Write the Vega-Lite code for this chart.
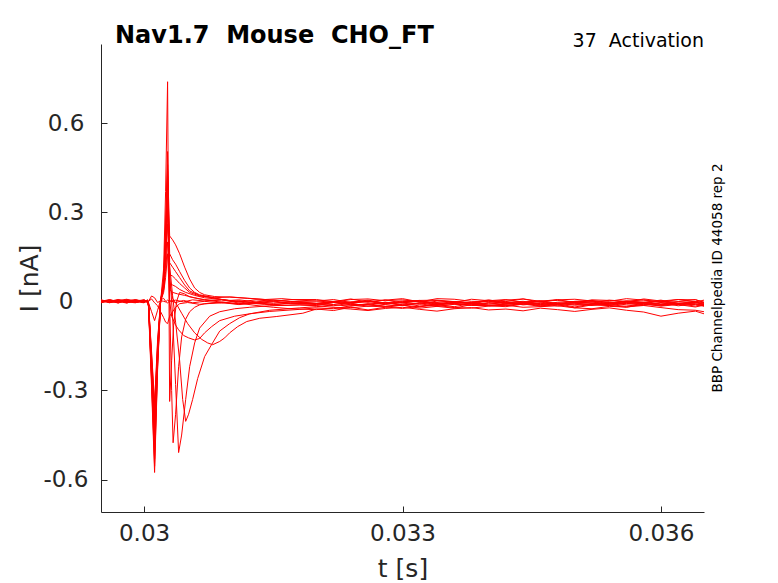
{
  "$schema": "https://vega.github.io/schema/vega-lite/v6.json",
  "width": 603,
  "height": 468,
  "autosize": {"type": "none"},
  "padding": {"left": 101, "top": 44, "right": 74, "bottom": 71},
  "background": "white",
  "config": {
    "view": {"stroke": null},
    "axis": {
      "grid": false,
      "labelFont": "DejaVu Sans",
      "titleFont": "DejaVu Sans",
      "labelColor": "#262626",
      "titleColor": "#262626",
      "domainColor": "#262626",
      "tickColor": "#262626",
      "titleFontWeight": "normal"
    }
  },
  "data": {
    "values": [
      {"s":1,"t":0.0295,"i":0.004},{"s":1,"t":0.0296,"i":-0.003},{"s":1,"t":0.0297,"i":0.006},{"s":1,"t":0.0298,"i":0},{"s":1,"t":0.0299,"i":-0.004},{"s":1,"t":0.03,"i":0.003},{"s":1,"t":0.03004,"i":0.001},
      {"s":1,"t":0.030052,"i":0},{"s":1,"t":0.030087,"i":0.018},{"s":1,"t":0.030122,"i":0.012},{"s":1,"t":0.030157,"i":-0.004},{"s":1,"t":0.030192,"i":0.002},{"s":1,"t":0.030227,"i":0},{"s":1,"t":0.03025,"i":-0.002},{"s":1,"t":0.030273,"i":0.004},
      {"s":1,"t":0.030297,"i":0},{"s":1,"t":0.030366,"i":0.004},{"s":1,"t":0.030459,"i":-0.002},{"s":1,"t":0.030564,"i":0.005},{"s":1,"t":0.0307,"i":0.001},{"s":1,"t":0.0309,"i":0.006},{"s":1,"t":0.0311,"i":-0.002},{"s":1,"t":0.0313,"i":0.005},{"s":1,"t":0.0315,"i":0},{"s":1,"t":0.0317,"i":0.006},
      {"s":1,"t":0.032,"i":0.006},{"s":1,"t":0.0322,"i":-0.001},{"s":1,"t":0.0324,"i":0.008},{"s":1,"t":0.0326,"i":-0.003},{"s":1,"t":0.0328,"i":0.004},{"s":1,"t":0.033,"i":0.009},{"s":1,"t":0.0332,"i":-0.002},{"s":1,"t":0.0334,"i":0.003},{"s":1,"t":0.0336,"i":-0.004},{"s":1,"t":0.0338,"i":0.007},{"s":1,"t":0.034,"i":0.002},{"s":1,"t":0.0342,"i":-0.001},{"s":1,"t":0.0344,"i":0.008},{"s":1,"t":0.0346,"i":0},{"s":1,"t":0.0348,"i":0.006},{"s":1,"t":0.035,"i":-0.005},{"s":1,"t":0.0352,"i":0.005},{"s":1,"t":0.0354,"i":0.003},{"s":1,"t":0.0356,"i":-0.003},{"s":1,"t":0.0358,"i":0.008},{"s":1,"t":0.036,"i":0.001},{"s":1,"t":0.0362,"i":0.006},{"s":1,"t":0.0364,"i":-0.002},{"s":1,"t":0.0365,"i":0.004},

      {"s":2,"t":0.0295,"i":-0.002},{"s":2,"t":0.0296,"i":0.005},{"s":2,"t":0.0297,"i":0},{"s":2,"t":0.0298,"i":-0.006},{"s":2,"t":0.0299,"i":0.004},{"s":2,"t":0.03,"i":-0.001},{"s":2,"t":0.03004,"i":0.002},
      {"s":2,"t":0.030052,"i":-0.005},{"s":2,"t":0.030087,"i":-0.035},{"s":2,"t":0.030122,"i":-0.065},{"s":2,"t":0.030157,"i":-0.03},{"s":2,"t":0.030192,"i":0.005},{"s":2,"t":0.030227,"i":0.01},{"s":2,"t":0.03025,"i":0},{"s":2,"t":0.030273,"i":-0.006},
      {"s":2,"t":0.030297,"i":0.002},{"s":2,"t":0.030366,"i":-0.004},{"s":2,"t":0.030459,"i":0.003},{"s":2,"t":0.030564,"i":-0.005},{"s":2,"t":0.0307,"i":0},{"s":2,"t":0.0309,"i":-0.006},{"s":2,"t":0.0311,"i":0.002},{"s":2,"t":0.0313,"i":-0.007},{"s":2,"t":0.0315,"i":-0.002},{"s":2,"t":0.0317,"i":-0.008},
      {"s":2,"t":0.032,"i":-0.009},{"s":2,"t":0.0322,"i":-0.002},{"s":2,"t":0.0324,"i":-0.005},{"s":2,"t":0.0326,"i":0.002},{"s":2,"t":0.0328,"i":-0.008},{"s":2,"t":0.033,"i":-0.001},{"s":2,"t":0.0332,"i":0.001},{"s":2,"t":0.0334,"i":-0.01},{"s":2,"t":0.0336,"i":-0.003},{"s":2,"t":0.0338,"i":-0.006},{"s":2,"t":0.034,"i":0.003},{"s":2,"t":0.0342,"i":-0.007},{"s":2,"t":0.0344,"i":-0.004},{"s":2,"t":0.0346,"i":0},{"s":2,"t":0.0348,"i":-0.01},{"s":2,"t":0.035,"i":-0.002},{"s":2,"t":0.0352,"i":0.001},{"s":2,"t":0.0354,"i":-0.008},{"s":2,"t":0.0356,"i":-0.001},{"s":2,"t":0.0358,"i":-0.005},{"s":2,"t":0.036,"i":0.002},{"s":2,"t":0.0362,"i":-0.009},{"s":2,"t":0.0364,"i":-0.003},{"s":2,"t":0.0365,"i":-0.007},

      {"s":3,"t":0.0295,"i":0.002},{"s":3,"t":0.0296,"i":-0.005},{"s":3,"t":0.0297,"i":0.003},{"s":3,"t":0.0298,"i":0.007},{"s":3,"t":0.0299,"i":-0.002},{"s":3,"t":0.03,"i":0},{"s":3,"t":0.03004,"i":-0.003},
      {"s":3,"t":0.030052,"i":0},{"s":3,"t":0.030087,"i":0.008},{"s":3,"t":0.030122,"i":-0.005},{"s":3,"t":0.030157,"i":-0.015},{"s":3,"t":0.030192,"i":-0.035},{"s":3,"t":0.030227,"i":-0.055},{"s":3,"t":0.03025,"i":-0.07},{"s":3,"t":0.030273,"i":-0.075},
      {"s":3,"t":0.030297,"i":-0.05},{"s":3,"t":0.030331,"i":-0.035},{"s":3,"t":0.030366,"i":-0.02},{"s":3,"t":0.030413,"i":-0.008},{"s":3,"t":0.030506,"i":-0.004},{"s":3,"t":0.030645,"i":-0.01},{"s":3,"t":0.0309,"i":-0.004},{"s":3,"t":0.0311,"i":-0.011},{"s":3,"t":0.0313,"i":-0.006},{"s":3,"t":0.0315,"i":-0.012},{"s":3,"t":0.0317,"i":-0.005},
      {"s":3,"t":0.032,"i":-0.007},{"s":3,"t":0.0322,"i":-0.002},{"s":3,"t":0.0324,"i":-0.012},{"s":3,"t":0.0326,"i":-0.01},{"s":3,"t":0.0328,"i":-0.003},{"s":3,"t":0.033,"i":-0.014},{"s":3,"t":0.0332,"i":-0.005},{"s":3,"t":0.0334,"i":-0.004},{"s":3,"t":0.0336,"i":-0.009},{"s":3,"t":0.0338,"i":-0.013},{"s":3,"t":0.034,"i":-0.006},{"s":3,"t":0.0342,"i":-0.002},{"s":3,"t":0.0344,"i":-0.012},{"s":3,"t":0.0346,"i":-0.007},{"s":3,"t":0.0348,"i":-0.005},{"s":3,"t":0.035,"i":-0.01},{"s":3,"t":0.0352,"i":-0.014},{"s":3,"t":0.0354,"i":-0.004},{"s":3,"t":0.0356,"i":-0.008},{"s":3,"t":0.0358,"i":-0.003},{"s":3,"t":0.036,"i":-0.011},{"s":3,"t":0.0362,"i":-0.009},{"s":3,"t":0.0364,"i":-0.002},{"s":3,"t":0.0365,"i":-0.012},

      {"s":4,"t":0.0295,"i":-0.004},{"s":4,"t":0.0296,"i":0.003},{"s":4,"t":0.0297,"i":-0.001},{"s":4,"t":0.0298,"i":0.005},{"s":4,"t":0.0299,"i":-0.003},{"s":4,"t":0.03,"i":0.002},{"s":4,"t":0.03004,"i":-0.002},
      {"s":4,"t":0.030052,"i":-0.01},{"s":4,"t":0.030087,"i":-0.17},{"s":4,"t":0.030122,"i":-0.34},{"s":4,"t":0.030157,"i":-0.13},{"s":4,"t":0.030192,"i":0},{"s":4,"t":0.030227,"i":0.03},{"s":4,"t":0.03025,"i":0.08},{"s":4,"t":0.030273,"i":0.16},
      {"s":4,"t":0.030297,"i":0},{"s":4,"t":0.03032,"i":-0.05},{"s":4,"t":0.030366,"i":-0.08},{"s":4,"t":0.030401,"i":-0.096},{"s":4,"t":0.030459,"i":-0.115},{"s":4,"t":0.030517,"i":-0.123},{"s":4,"t":0.030587,"i":-0.13},{"s":4,"t":0.030645,"i":-0.125},{"s":4,"t":0.030703,"i":-0.106},{"s":4,"t":0.030785,"i":-0.085},{"s":4,"t":0.030878,"i":-0.065},{"s":4,"t":0.031052,"i":-0.05},{"s":4,"t":0.031227,"i":-0.042},{"s":4,"t":0.031459,"i":-0.034},{"s":4,"t":0.031808,"i":-0.027},
      {"s":4,"t":0.032,"i":-0.022},{"s":4,"t":0.0322,"i":-0.025},{"s":4,"t":0.0324,"i":-0.015},{"s":4,"t":0.0326,"i":-0.012},{"s":4,"t":0.0328,"i":-0.017},{"s":4,"t":0.033,"i":-0.013},{"s":4,"t":0.0332,"i":-0.019},{"s":4,"t":0.0334,"i":-0.007},{"s":4,"t":0.0336,"i":-0.008},{"s":4,"t":0.0338,"i":-0.014},{"s":4,"t":0.034,"i":-0.014},{"s":4,"t":0.0342,"i":-0.009},{"s":4,"t":0.0344,"i":-0.005},{"s":4,"t":0.0346,"i":-0.016},{"s":4,"t":0.0348,"i":-0.008},{"s":4,"t":0.035,"i":-0.006},{"s":4,"t":0.0352,"i":-0.012},{"s":4,"t":0.0354,"i":-0.013},{"s":4,"t":0.0356,"i":-0.004},{"s":4,"t":0.0358,"i":-0.009},{"s":4,"t":0.036,"i":-0.015},{"s":4,"t":0.0362,"i":-0.007},{"s":4,"t":0.0364,"i":-0.008},{"s":4,"t":0.0365,"i":-0.016},

      {"s":5,"t":0.0295,"i":0.003},{"s":5,"t":0.0296,"i":-0.002},{"s":5,"t":0.0297,"i":0.004},{"s":5,"t":0.0298,"i":-0.005},{"s":5,"t":0.0299,"i":0.001},{"s":5,"t":0.03,"i":0.005},{"s":5,"t":0.03004,"i":-0.001},
      {"s":5,"t":0.030052,"i":-0.01},{"s":5,"t":0.030087,"i":-0.18},{"s":5,"t":0.030122,"i":-0.36},{"s":5,"t":0.030157,"i":-0.14},{"s":5,"t":0.030192,"i":0},{"s":5,"t":0.030227,"i":0.04},{"s":5,"t":0.03025,"i":0.1},{"s":5,"t":0.030273,"i":0.2},
      {"s":5,"t":0.030297,"i":0.06},{"s":5,"t":0.030331,"i":0.01},{"s":5,"t":0.030378,"i":-0.01},{"s":5,"t":0.030436,"i":-0.04},{"s":5,"t":0.030506,"i":-0.075},{"s":5,"t":0.030587,"i":-0.106},{"s":5,"t":0.030669,"i":-0.128},{"s":5,"t":0.030738,"i":-0.14},{"s":5,"t":0.030797,"i":-0.146},{"s":5,"t":0.030878,"i":-0.135},{"s":5,"t":0.030936,"i":-0.123},{"s":5,"t":0.030994,"i":-0.106},{"s":5,"t":0.031087,"i":-0.085},{"s":5,"t":0.031192,"i":-0.068},{"s":5,"t":0.031343,"i":-0.057},{"s":5,"t":0.031541,"i":-0.051},{"s":5,"t":0.031843,"i":-0.04},
      {"s":5,"t":0.032,"i":-0.026},{"s":5,"t":0.0322,"i":-0.031},{"s":5,"t":0.0324,"i":-0.02},{"s":5,"t":0.0326,"i":-0.029},{"s":5,"t":0.0328,"i":-0.02},{"s":5,"t":0.033,"i":-0.013},{"s":5,"t":0.0332,"i":-0.023},{"s":5,"t":0.0334,"i":-0.017},{"s":5,"t":0.0336,"i":-0.023},{"s":5,"t":0.0338,"i":-0.011},{"s":5,"t":0.034,"i":-0.015},{"s":5,"t":0.0342,"i":-0.018},{"s":5,"t":0.0344,"i":-0.009},{"s":5,"t":0.0346,"i":-0.017},{"s":5,"t":0.0348,"i":-0.011},{"s":5,"t":0.035,"i":-0.022},{"s":5,"t":0.0352,"i":-0.012},{"s":5,"t":0.0354,"i":-0.014},{"s":5,"t":0.0356,"i":-0.02},{"s":5,"t":0.0358,"i":-0.009},{"s":5,"t":0.036,"i":-0.016},{"s":5,"t":0.0362,"i":-0.011},{"s":5,"t":0.0364,"i":-0.019},{"s":5,"t":0.0365,"i":-0.013},

      {"s":6,"t":0.0295,"i":-0.001},{"s":6,"t":0.0296,"i":0.004},{"s":6,"t":0.0297,"i":-0.004},{"s":6,"t":0.0298,"i":0.002},{"s":6,"t":0.0299,"i":0.006},{"s":6,"t":0.03,"i":-0.003},{"s":6,"t":0.03004,"i":0.001},
      {"s":6,"t":0.030052,"i":-0.012},{"s":6,"t":0.030087,"i":-0.2},{"s":6,"t":0.030122,"i":-0.4},{"s":6,"t":0.030157,"i":-0.16},{"s":6,"t":0.030192,"i":0},{"s":6,"t":0.030227,"i":0.04},{"s":6,"t":0.03025,"i":0.13},{"s":6,"t":0.030273,"i":0.26},
      {"s":6,"t":0.030297,"i":0.12},{"s":6,"t":0.030331,"i":0.02},{"s":6,"t":0.030366,"i":-0.07},{"s":6,"t":0.030413,"i":-0.2},{"s":6,"t":0.030448,"i":-0.33},{"s":6,"t":0.030483,"i":-0.404},{"s":6,"t":0.030517,"i":-0.38},{"s":6,"t":0.030564,"i":-0.33},{"s":6,"t":0.030622,"i":-0.26},{"s":6,"t":0.030703,"i":-0.186},{"s":6,"t":0.030785,"i":-0.145},{"s":6,"t":0.030878,"i":-0.1},{"s":6,"t":0.030994,"i":-0.075},{"s":6,"t":0.03111,"i":-0.055},{"s":6,"t":0.031227,"i":-0.042},{"s":6,"t":0.031459,"i":-0.03},{"s":6,"t":0.031808,"i":-0.022},
      {"s":6,"t":0.032,"i":-0.018},{"s":6,"t":0.0322,"i":-0.012},{"s":6,"t":0.0324,"i":-0.016},{"s":6,"t":0.0326,"i":-0.008},{"s":6,"t":0.0328,"i":-0.017},{"s":6,"t":0.033,"i":-0.01},{"s":6,"t":0.0332,"i":-0.008},{"s":6,"t":0.0334,"i":-0.017},{"s":6,"t":0.0336,"i":-0.01},{"s":6,"t":0.0338,"i":-0.012},{"s":6,"t":0.034,"i":-0.004},{"s":6,"t":0.0342,"i":-0.013},{"s":6,"t":0.0344,"i":-0.01},{"s":6,"t":0.0346,"i":-0.006},{"s":6,"t":0.0348,"i":-0.016},{"s":6,"t":0.035,"i":-0.008},{"s":6,"t":0.0352,"i":-0.005},{"s":6,"t":0.0354,"i":-0.014},{"s":6,"t":0.0356,"i":-0.007},{"s":6,"t":0.0358,"i":-0.011},{"s":6,"t":0.036,"i":-0.004},{"s":6,"t":0.0362,"i":-0.015},{"s":6,"t":0.0364,"i":-0.009},{"s":6,"t":0.0365,"i":-0.013},

      {"s":7,"t":0.0295,"i":0.005},{"s":7,"t":0.0296,"i":-0.002},{"s":7,"t":0.0297,"i":0.001},{"s":7,"t":0.0298,"i":-0.004},{"s":7,"t":0.0299,"i":0.003},{"s":7,"t":0.03,"i":0},{"s":7,"t":0.03004,"i":0.004},
      {"s":7,"t":0.030052,"i":-0.012},{"s":7,"t":0.030087,"i":-0.22},{"s":7,"t":0.030122,"i":-0.44},{"s":7,"t":0.030157,"i":-0.18},{"s":7,"t":0.030192,"i":0},{"s":7,"t":0.030227,"i":0.05},{"s":7,"t":0.03025,"i":0.165},{"s":7,"t":0.030273,"i":0.33},
      {"s":7,"t":0.030297,"i":0.1},{"s":7,"t":0.030331,"i":-0.05},{"s":7,"t":0.030366,"i":-0.28},{"s":7,"t":0.030401,"i":-0.509},{"s":7,"t":0.030436,"i":-0.45},{"s":7,"t":0.030483,"i":-0.33},{"s":7,"t":0.030529,"i":-0.22},{"s":7,"t":0.030587,"i":-0.14},{"s":7,"t":0.030645,"i":-0.09},{"s":7,"t":0.030762,"i":-0.05},{"s":7,"t":0.030878,"i":-0.035},{"s":7,"t":0.031052,"i":-0.025},{"s":7,"t":0.031227,"i":-0.02},{"s":7,"t":0.031459,"i":-0.015},{"s":7,"t":0.031808,"i":-0.012},
      {"s":7,"t":0.032,"i":-0.014},{"s":7,"t":0.0322,"i":-0.004},{"s":7,"t":0.0324,"i":-0.011},{"s":7,"t":0.0326,"i":-0.01},{"s":7,"t":0.0328,"i":-0.005},{"s":7,"t":0.033,"i":-0.013},{"s":7,"t":0.0332,"i":-0.006},{"s":7,"t":0.0334,"i":-0.012},{"s":7,"t":0.0336,"i":-0.008},{"s":7,"t":0.0338,"i":-0.003},{"s":7,"t":0.034,"i":-0.015},{"s":7,"t":0.0342,"i":-0.009},{"s":7,"t":0.0344,"i":-0.006},{"s":7,"t":0.0346,"i":-0.011},{"s":7,"t":0.0348,"i":-0.007},{"s":7,"t":0.035,"i":-0.013},{"s":7,"t":0.0352,"i":-0.01},{"s":7,"t":0.0354,"i":-0.004},{"s":7,"t":0.0356,"i":-0.012},{"s":7,"t":0.0358,"i":-0.014},{"s":7,"t":0.036,"i":-0.006},{"s":7,"t":0.0362,"i":-0.008},{"s":7,"t":0.0364,"i":-0.011},{"s":7,"t":0.0365,"i":-0.016},

      {"s":8,"t":0.0295,"i":-0.003},{"s":8,"t":0.0296,"i":0.001},{"s":8,"t":0.0297,"i":0.005},{"s":8,"t":0.0298,"i":-0.002},{"s":8,"t":0.0299,"i":-0.005},{"s":8,"t":0.03,"i":0.004},{"s":8,"t":0.03004,"i":0},
      {"s":8,"t":0.030052,"i":-0.015},{"s":8,"t":0.030087,"i":-0.25},{"s":8,"t":0.030122,"i":-0.5},{"s":8,"t":0.030157,"i":-0.2},{"s":8,"t":0.030192,"i":0},{"s":8,"t":0.030227,"i":0.08},{"s":8,"t":0.03025,"i":0.25},{"s":8,"t":0.030273,"i":0.504},
      {"s":8,"t":0.030297,"i":0},{"s":8,"t":0.03032,"i":-0.3},{"s":8,"t":0.030337,"i":-0.476},{"s":8,"t":0.030366,"i":-0.38},{"s":8,"t":0.030401,"i":-0.22},{"s":8,"t":0.030436,"i":-0.12},{"s":8,"t":0.030483,"i":-0.06},{"s":8,"t":0.030529,"i":-0.035},{"s":8,"t":0.030587,"i":-0.02},{"s":8,"t":0.030645,"i":-0.012},{"s":8,"t":0.0307,"i":-0.008},{"s":8,"t":0.0309,"i":-0.004},{"s":8,"t":0.0311,"i":-0.009},{"s":8,"t":0.0313,"i":-0.003},{"s":8,"t":0.0315,"i":-0.007},{"s":8,"t":0.0317,"i":-0.002},
      {"s":8,"t":0.032,"i":-0.007},{"s":8,"t":0.0322,"i":-0.011},{"s":8,"t":0.0324,"i":-0.002},{"s":8,"t":0.0326,"i":0},{"s":8,"t":0.0328,"i":-0.006},{"s":8,"t":0.033,"i":-0.003},{"s":8,"t":0.0332,"i":-0.01},{"s":8,"t":0.0334,"i":0.001},{"s":8,"t":0.0336,"i":-0.001},{"s":8,"t":0.0338,"i":-0.008},{"s":8,"t":0.034,"i":-0.009},{"s":8,"t":0.0342,"i":-0.004},{"s":8,"t":0.0344,"i":0},{"s":8,"t":0.0346,"i":-0.011},{"s":8,"t":0.0348,"i":-0.003},{"s":8,"t":0.035,"i":-0.001},{"s":8,"t":0.0352,"i":-0.007},{"s":8,"t":0.0354,"i":-0.008},{"s":8,"t":0.0356,"i":0.001},{"s":8,"t":0.0358,"i":-0.004},{"s":8,"t":0.036,"i":-0.01},{"s":8,"t":0.0362,"i":-0.002},{"s":8,"t":0.0364,"i":-0.003},{"s":8,"t":0.0365,"i":-0.011},

      {"s":9,"t":0.0295,"i":0.002},{"s":9,"t":0.0296,"i":-0.004},{"s":9,"t":0.0297,"i":0},{"s":9,"t":0.0298,"i":0.004},{"s":9,"t":0.0299,"i":-0.001},{"s":9,"t":0.03,"i":-0.005},{"s":9,"t":0.03004,"i":0.003},
      {"s":9,"t":0.030052,"i":-0.02},{"s":9,"t":0.030087,"i":-0.29},{"s":9,"t":0.030122,"i":-0.576},{"s":9,"t":0.030157,"i":-0.23},{"s":9,"t":0.030192,"i":0},{"s":9,"t":0.030227,"i":0.11},{"s":9,"t":0.03025,"i":0.37},{"s":9,"t":0.030273,"i":0.739},
      {"s":9,"t":0.030297,"i":-0.337},{"s":9,"t":0.03032,"i":-0.2},{"s":9,"t":0.030343,"i":-0.08},{"s":9,"t":0.030378,"i":0},{"s":9,"t":0.030413,"i":0.03},{"s":9,"t":0.030471,"i":0.025},{"s":9,"t":0.030529,"i":0.015},{"s":9,"t":0.030645,"i":0.008},{"s":9,"t":0.0307,"i":0.006},{"s":9,"t":0.0309,"i":0.001},{"s":9,"t":0.0311,"i":0.005},{"s":9,"t":0.0313,"i":-0.002},{"s":9,"t":0.0315,"i":0.004},{"s":9,"t":0.0317,"i":-0.001},
      {"s":9,"t":0.032,"i":0.001},{"s":9,"t":0.0322,"i":0.006},{"s":9,"t":0.0324,"i":-0.004},{"s":9,"t":0.0326,"i":-0.002},{"s":9,"t":0.0328,"i":0.005},{"s":9,"t":0.033,"i":-0.006},{"s":9,"t":0.0332,"i":0.003},{"s":9,"t":0.0334,"i":0.004},{"s":9,"t":0.0336,"i":-0.001},{"s":9,"t":0.0338,"i":-0.005},{"s":9,"t":0.034,"i":0.002},{"s":9,"t":0.0342,"i":0.006},{"s":9,"t":0.0344,"i":-0.004},{"s":9,"t":0.0346,"i":0.001},{"s":9,"t":0.0348,"i":0.003},{"s":9,"t":0.035,"i":-0.002},{"s":9,"t":0.0352,"i":-0.006},{"s":9,"t":0.0354,"i":0.004},{"s":9,"t":0.0356,"i":0},{"s":9,"t":0.0358,"i":0.005},{"s":9,"t":0.036,"i":-0.003},{"s":9,"t":0.0362,"i":-0.001},{"s":9,"t":0.0364,"i":0.006},{"s":9,"t":0.0365,"i":-0.004},

      {"s":10,"t":0.0295,"i":0},{"s":10,"t":0.0296,"i":0.006},{"s":10,"t":0.0297,"i":-0.003},{"s":10,"t":0.0298,"i":0.001},{"s":10,"t":0.0299,"i":-0.002},{"s":10,"t":0.03,"i":0.005},{"s":10,"t":0.03004,"i":-0.004},
      {"s":10,"t":0.030052,"i":-0.01},{"s":10,"t":0.030087,"i":-0.19},{"s":10,"t":0.030122,"i":-0.38},{"s":10,"t":0.030157,"i":-0.15},{"s":10,"t":0.030192,"i":0},{"s":10,"t":0.030227,"i":0.045},{"s":10,"t":0.03025,"i":0.15},{"s":10,"t":0.030273,"i":0.3},
      {"s":10,"t":0.030297,"i":0.04},{"s":10,"t":0.030331,"i":0.03},{"s":10,"t":0.03039,"i":0.025},{"s":10,"t":0.030471,"i":0.02},{"s":10,"t":0.030587,"i":0.012},{"s":10,"t":0.0307,"i":0.005},{"s":10,"t":0.0309,"i":-0.003},{"s":10,"t":0.0311,"i":-0.008},{"s":10,"t":0.0313,"i":-0.004},{"s":10,"t":0.0315,"i":-0.011},{"s":10,"t":0.0317,"i":-0.007},
      {"s":10,"t":0.032,"i":-0.008},{"s":10,"t":0.0322,"i":-0.015},{"s":10,"t":0.0324,"i":-0.006},{"s":10,"t":0.0326,"i":-0.017},{"s":10,"t":0.0328,"i":-0.01},{"s":10,"t":0.033,"i":-0.005},{"s":10,"t":0.0332,"i":-0.016},{"s":10,"t":0.0334,"i":-0.011},{"s":10,"t":0.0336,"i":-0.018},{"s":10,"t":0.0338,"i":-0.007},{"s":10,"t":0.034,"i":-0.012},{"s":10,"t":0.0342,"i":-0.015},{"s":10,"t":0.0344,"i":-0.006},{"s":10,"t":0.0346,"i":-0.014},{"s":10,"t":0.0348,"i":-0.008},{"s":10,"t":0.035,"i":-0.019},{"s":10,"t":0.0352,"i":-0.009},{"s":10,"t":0.0354,"i":-0.011},{"s":10,"t":0.0356,"i":-0.017},{"s":10,"t":0.0358,"i":-0.006},{"s":10,"t":0.036,"i":-0.013},{"s":10,"t":0.0362,"i":-0.008},{"s":10,"t":0.0364,"i":-0.016},{"s":10,"t":0.0365,"i":-0.01},

      {"s":11,"t":0.0295,"i":-0.005},{"s":11,"t":0.0296,"i":0.002},{"s":11,"t":0.0297,"i":0.004},{"s":11,"t":0.0298,"i":-0.001},{"s":11,"t":0.0299,"i":0.003},{"s":11,"t":0.03,"i":-0.004},{"s":11,"t":0.03004,"i":0.002},
      {"s":11,"t":0.030052,"i":-0.012},{"s":11,"t":0.030087,"i":-0.21},{"s":11,"t":0.030122,"i":-0.42},{"s":11,"t":0.030157,"i":-0.17},{"s":11,"t":0.030192,"i":0},{"s":11,"t":0.030227,"i":0.055},{"s":11,"t":0.03025,"i":0.18},{"s":11,"t":0.030273,"i":0.36},
      {"s":11,"t":0.030297,"i":0.06},{"s":11,"t":0.030331,"i":0.055},{"s":11,"t":0.030366,"i":0.05},{"s":11,"t":0.030413,"i":0.04},{"s":11,"t":0.030483,"i":0.03},{"s":11,"t":0.030587,"i":0.02},{"s":11,"t":0.0307,"i":0.012},{"s":11,"t":0.0309,"i":0.006},{"s":11,"t":0.0311,"i":0},{"s":11,"t":0.0313,"i":-0.004},{"s":11,"t":0.0315,"i":0.001},{"s":11,"t":0.0317,"i":-0.006},
      {"s":11,"t":0.032,"i":-0.011},{"s":11,"t":0.0322,"i":-0.004},{"s":11,"t":0.0324,"i":-0.007},{"s":11,"t":0.0326,"i":0},{"s":11,"t":0.0328,"i":-0.01},{"s":11,"t":0.033,"i":-0.003},{"s":11,"t":0.0332,"i":-0.001},{"s":11,"t":0.0334,"i":-0.012},{"s":11,"t":0.0336,"i":-0.005},{"s":11,"t":0.0338,"i":-0.008},{"s":11,"t":0.034,"i":0.001},{"s":11,"t":0.0342,"i":-0.009},{"s":11,"t":0.0344,"i":-0.006},{"s":11,"t":0.0346,"i":-0.002},{"s":11,"t":0.0348,"i":-0.012},{"s":11,"t":0.035,"i":-0.004},{"s":11,"t":0.0352,"i":-0.001},{"s":11,"t":0.0354,"i":-0.01},{"s":11,"t":0.0356,"i":-0.003},{"s":11,"t":0.0358,"i":-0.007},{"s":11,"t":0.036,"i":0},{"s":11,"t":0.0362,"i":-0.011},{"s":11,"t":0.0364,"i":-0.005},{"s":11,"t":0.0365,"i":-0.009},

      {"s":12,"t":0.0295,"i":0.003},{"s":12,"t":0.0296,"i":0},{"s":12,"t":0.0297,"i":-0.005},{"s":12,"t":0.0298,"i":0.004},{"s":12,"t":0.0299,"i":0.001},{"s":12,"t":0.03,"i":-0.002},{"s":12,"t":0.03004,"i":0.005},
      {"s":12,"t":0.030052,"i":-0.014},{"s":12,"t":0.030087,"i":-0.23},{"s":12,"t":0.030122,"i":-0.46},{"s":12,"t":0.030157,"i":-0.18},{"s":12,"t":0.030192,"i":0},{"s":12,"t":0.030227,"i":0.06},{"s":12,"t":0.03025,"i":0.2},{"s":12,"t":0.030273,"i":0.4},
      {"s":12,"t":0.030297,"i":0.09},{"s":12,"t":0.030331,"i":0.085},{"s":12,"t":0.030366,"i":0.075},{"s":12,"t":0.030413,"i":0.06},{"s":12,"t":0.030471,"i":0.045},{"s":12,"t":0.030529,"i":0.03},{"s":12,"t":0.030645,"i":0.018},{"s":12,"t":0.03082,"i":0.012},{"s":12,"t":0.031,"i":0.015},{"s":12,"t":0.0312,"i":0.01},{"s":12,"t":0.0314,"i":0.006},{"s":12,"t":0.0316,"i":0.009},{"s":12,"t":0.0318,"i":0.004},
      {"s":12,"t":0.032,"i":0.001},{"s":12,"t":0.0322,"i":-0.003},{"s":12,"t":0.0324,"i":0.006},{"s":12,"t":0.0326,"i":0.008},{"s":12,"t":0.0328,"i":0.002},{"s":12,"t":0.033,"i":0.005},{"s":12,"t":0.0332,"i":-0.002},{"s":12,"t":0.0334,"i":0.009},{"s":12,"t":0.0336,"i":0.007},{"s":12,"t":0.0338,"i":0},{"s":12,"t":0.034,"i":-0.001},{"s":12,"t":0.0342,"i":0.004},{"s":12,"t":0.0344,"i":0.008},{"s":12,"t":0.0346,"i":-0.003},{"s":12,"t":0.0348,"i":0.005},{"s":12,"t":0.035,"i":0.007},{"s":12,"t":0.0352,"i":0.001},{"s":12,"t":0.0354,"i":0},{"s":12,"t":0.0356,"i":0.009},{"s":12,"t":0.0358,"i":0.004},{"s":12,"t":0.036,"i":-0.002},{"s":12,"t":0.0362,"i":0.006},{"s":12,"t":0.0364,"i":0.005},{"s":12,"t":0.0365,"i":-0.003},

      {"s":13,"t":0.0295,"i":-0.002},{"s":13,"t":0.0296,"i":0.003},{"s":13,"t":0.0297,"i":0.002},{"s":13,"t":0.0298,"i":-0.004},{"s":13,"t":0.0299,"i":0.005},{"s":13,"t":0.03,"i":0.001},{"s":13,"t":0.03004,"i":-0.003},
      {"s":13,"t":0.030052,"i":-0.015},{"s":13,"t":0.030087,"i":-0.24},{"s":13,"t":0.030122,"i":-0.48},{"s":13,"t":0.030157,"i":-0.19},{"s":13,"t":0.030192,"i":0},{"s":13,"t":0.030227,"i":0.06},{"s":13,"t":0.03025,"i":0.21},{"s":13,"t":0.030273,"i":0.42},
      {"s":13,"t":0.030297,"i":0.13},{"s":13,"t":0.030331,"i":0.115},{"s":13,"t":0.030366,"i":0.1},{"s":13,"t":0.030413,"i":0.08},{"s":13,"t":0.030471,"i":0.055},{"s":13,"t":0.030529,"i":0.035},{"s":13,"t":0.030645,"i":0.02},{"s":13,"t":0.03082,"i":0.01},{"s":13,"t":0.031,"i":0.002},{"s":13,"t":0.0312,"i":-0.006},{"s":13,"t":0.0314,"i":-0.01},{"s":13,"t":0.0316,"i":-0.014},{"s":13,"t":0.0318,"i":-0.012},
      {"s":13,"t":0.032,"i":-0.015},{"s":13,"t":0.0322,"i":-0.02},{"s":13,"t":0.0324,"i":-0.022},{"s":13,"t":0.0326,"i":-0.016},{"s":13,"t":0.0328,"i":-0.019},{"s":13,"t":0.033,"i":-0.024},{"s":13,"t":0.0332,"i":-0.017},{"s":13,"t":0.0334,"i":-0.014},{"s":13,"t":0.0336,"i":-0.021},{"s":13,"t":0.0338,"i":-0.023},{"s":13,"t":0.034,"i":-0.016},{"s":13,"t":0.0342,"i":-0.013},{"s":13,"t":0.0344,"i":-0.02},{"s":13,"t":0.0346,"i":-0.018},{"s":13,"t":0.0348,"i":-0.015},{"s":13,"t":0.035,"i":-0.022},{"s":13,"t":0.0352,"i":-0.025},{"s":13,"t":0.0354,"i":-0.017},{"s":13,"t":0.0356,"i":-0.019},{"s":13,"t":0.0358,"i":-0.014},{"s":13,"t":0.036,"i":-0.021},{"s":13,"t":0.0362,"i":-0.028},{"s":13,"t":0.0364,"i":-0.03},{"s":13,"t":0.0365,"i":-0.035},

      {"s":14,"t":0.0295,"i":0.004},{"s":14,"t":0.0296,"i":-0.003},{"s":14,"t":0.0297,"i":0},{"s":14,"t":0.0298,"i":0.003},{"s":14,"t":0.0299,"i":-0.004},{"s":14,"t":0.03,"i":0.002},{"s":14,"t":0.03004,"i":0},
      {"s":14,"t":0.030052,"i":-0.017},{"s":14,"t":0.030087,"i":-0.26},{"s":14,"t":0.030122,"i":-0.53},{"s":14,"t":0.030157,"i":-0.21},{"s":14,"t":0.030192,"i":0},{"s":14,"t":0.030227,"i":0.065},{"s":14,"t":0.03025,"i":0.22},{"s":14,"t":0.030273,"i":0.44},
      {"s":14,"t":0.030297,"i":0.16},{"s":14,"t":0.030331,"i":0.14},{"s":14,"t":0.030366,"i":0.125},{"s":14,"t":0.030413,"i":0.1},{"s":14,"t":0.030471,"i":0.07},{"s":14,"t":0.030529,"i":0.045},{"s":14,"t":0.030587,"i":0.03},{"s":14,"t":0.030645,"i":0.022},{"s":14,"t":0.030762,"i":0.015},{"s":14,"t":0.0309,"i":0.006},{"s":14,"t":0.0311,"i":-0.006},{"s":14,"t":0.0313,"i":-0.014},{"s":14,"t":0.0315,"i":-0.02},{"s":14,"t":0.0317,"i":-0.025},
      {"s":14,"t":0.032,"i":-0.028},{"s":14,"t":0.0322,"i":-0.022},{"s":14,"t":0.0324,"i":-0.026},{"s":14,"t":0.0326,"i":-0.031},{"s":14,"t":0.0328,"i":-0.024},{"s":14,"t":0.033,"i":-0.02},{"s":14,"t":0.0332,"i":-0.027},{"s":14,"t":0.0334,"i":-0.033},{"s":14,"t":0.0336,"i":-0.025},{"s":14,"t":0.0338,"i":-0.021},{"s":14,"t":0.034,"i":-0.029},{"s":14,"t":0.0342,"i":-0.026},{"s":14,"t":0.0344,"i":-0.032},{"s":14,"t":0.0346,"i":-0.023},{"s":14,"t":0.0348,"i":-0.028},{"s":14,"t":0.035,"i":-0.034},{"s":14,"t":0.0352,"i":-0.027},{"s":14,"t":0.0354,"i":-0.022},{"s":14,"t":0.0356,"i":-0.03},{"s":14,"t":0.0358,"i":-0.036},{"s":14,"t":0.036,"i":-0.05},{"s":14,"t":0.0362,"i":-0.04},{"s":14,"t":0.0364,"i":-0.033},{"s":14,"t":0.0365,"i":-0.042},

      {"s":15,"t":0.0295,"i":-0.001},{"s":15,"t":0.0296,"i":0.002},{"s":15,"t":0.0297,"i":-0.006},{"s":15,"t":0.0298,"i":0.005},{"s":15,"t":0.0299,"i":0.002},{"s":15,"t":0.03,"i":-0.003},{"s":15,"t":0.03004,"i":0.004},
      {"s":15,"t":0.030052,"i":-0.018},{"s":15,"t":0.030087,"i":-0.27},{"s":15,"t":0.030122,"i":-0.555},{"s":15,"t":0.030157,"i":-0.22},{"s":15,"t":0.030192,"i":0},{"s":15,"t":0.030227,"i":0.07},{"s":15,"t":0.03025,"i":0.23},{"s":15,"t":0.030273,"i":0.46},
      {"s":15,"t":0.030297,"i":0.22},{"s":15,"t":0.030331,"i":0.207},{"s":15,"t":0.030366,"i":0.19},{"s":15,"t":0.030413,"i":0.16},{"s":15,"t":0.030471,"i":0.115},{"s":15,"t":0.030529,"i":0.075},{"s":15,"t":0.030587,"i":0.045},{"s":15,"t":0.030645,"i":0.03},{"s":15,"t":0.030703,"i":0.022},{"s":15,"t":0.03082,"i":0.016},{"s":15,"t":0.030994,"i":0.014},{"s":15,"t":0.031227,"i":0.01},{"s":15,"t":0.031459,"i":0.005},{"s":15,"t":0.031808,"i":-0.002},
      {"s":15,"t":0.032,"i":-0.007},{"s":15,"t":0.0322,"i":0},{"s":15,"t":0.0324,"i":-0.003},{"s":15,"t":0.0326,"i":0.004},{"s":15,"t":0.0328,"i":-0.006},{"s":15,"t":0.033,"i":0.001},{"s":15,"t":0.0332,"i":0.003},{"s":15,"t":0.0334,"i":-0.008},{"s":15,"t":0.0336,"i":-0.001},{"s":15,"t":0.0338,"i":-0.004},{"s":15,"t":0.034,"i":0.005},{"s":15,"t":0.0342,"i":-0.005},{"s":15,"t":0.0344,"i":-0.002},{"s":15,"t":0.0346,"i":0.002},{"s":15,"t":0.0348,"i":-0.008},{"s":15,"t":0.035,"i":0},{"s":15,"t":0.0352,"i":0.003},{"s":15,"t":0.0354,"i":-0.006},{"s":15,"t":0.0356,"i":0.001},{"s":15,"t":0.0358,"i":-0.003},{"s":15,"t":0.036,"i":0.004},{"s":15,"t":0.0362,"i":-0.007},{"s":15,"t":0.0364,"i":-0.001},{"s":15,"t":0.0365,"i":-0.005}
    ]
  },
  "layer": [
    {
      "mark": {"type": "line", "color": "#ff0000", "strokeWidth": 1, "clip": true},
      "encoding": {
        "x": {
          "field": "t",
          "type": "quantitative",
          "scale": {"domain": [0.0295, 0.0365], "nice": false, "zero": false},
          "axis": {
            "orient": "bottom",
            "values": [0.03, 0.033, 0.036],
            "format": "~g",
            "title": "t [s]",
            "titleFontSize": 25,
            "titleX": 301.5,
            "titleY": 56,
            "titleBaseline": "middle",
            "labelFontSize": 23,
            "tickSize": -6,
            "labelPadding": 16.5
          }
        },
        "y": {
          "field": "i",
          "type": "quantitative",
          "scale": {"domain": [-0.709, 0.866], "nice": false, "zero": false},
          "axis": {
            "orient": "left",
            "values": [-0.6, -0.3, 0, 0.3, 0.6],
            "format": "~g",
            "labelExpr": "replace(datum.label, '\u2212', '-')",
            "title": "I [nA]",
            "titleFontSize": 25,
            "titleX": -71.5,
            "titleY": 234,
            "titleAngle": 270,
            "titleBaseline": "middle",
            "labelFontSize": 23,
            "labelAlign": "center",
            "tickSize": -6,
            "labelPadding": 41.5
          }
        },
        "detail": {"field": "s", "type": "nominal"}
      }
    },
    {
      "data": {"values": [{}]},
      "mark": {"type": "text", "text": "Nav1.7\u00a0 Mouse\u00a0 CHO_FT", "align": "left", "baseline": "alphabetic", "dx": 14, "dy": -1.5, "font": "DejaVu Sans", "fontSize": 24, "fontWeight": "bold", "color": "#000000"},
      "encoding": {
        "x": {"datum": 0.0295, "type": "quantitative"},
        "y": {"datum": 0.866, "type": "quantitative"}
      }
    },
    {
      "data": {"values": [{}]},
      "mark": {"type": "text", "text": "37\u00a0 Activation", "align": "right", "baseline": "alphabetic", "dy": 3, "font": "DejaVu Sans", "fontSize": 19, "color": "#000000"},
      "encoding": {
        "x": {"datum": 0.0365, "type": "quantitative"},
        "y": {"datum": 0.866, "type": "quantitative"}
      }
    },
    {
      "data": {"values": [{}]},
      "mark": {"type": "text", "text": "BBP Channelpedia ID 44058 rep 2", "angle": 270, "align": "center", "baseline": "alphabetic", "dy": 18, "font": "DejaVu Sans", "fontSize": 13.5, "color": "#000000"},
      "encoding": {
        "x": {"datum": 0.0365, "type": "quantitative"},
        "y": {"datum": 0.0785, "type": "quantitative"}
      }
    }
  ]
}
